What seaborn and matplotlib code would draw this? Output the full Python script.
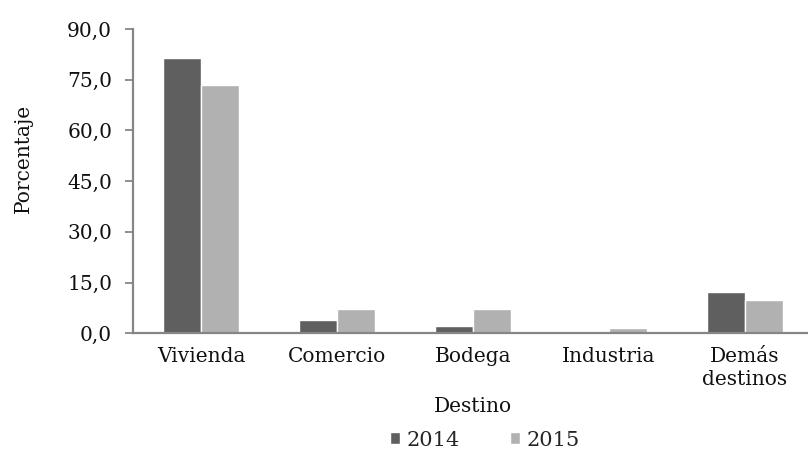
import numpy as np
import pandas as pd
import matplotlib
matplotlib.use("Agg")
import matplotlib.pyplot as plt
from matplotlib.ticker import FuncFormatter, FixedLocator
import seaborn as sns

# datos
destinos = ["Vivienda", "Comercio", "Bodega", "Industria", "Demás\ndestinos"]
anios = ["2014", "2015"]
valores_2014 = [81.3, 3.9, 2.3, 0.0, 12.1]
valores_2015 = [73.4, 7.2, 7.2, 1.5, 9.8]
colores = ["#5f5f5f", "#b1b1b1"]

df = pd.DataFrame({
    "Destino": destinos * 2,
    "Año": [anios[0]] * len(destinos) + [anios[1]] * len(destinos),
    "Porcentaje": valores_2014 + valores_2015,
})

sns.set_style("white")
plt.rcParams["font.family"] = ["DejaVu Serif"]
fs = 14.5

fig = plt.figure(figsize=(8.08, 4.57), dpi=100)
ax = fig.add_axes([0.1646, 0.2707, 0.8414, 0.6658])

sns.barplot(data=df, x="Destino", y="Porcentaje", hue="Año",
            palette=colores, width=0.56, gap=0, ax=ax,
            edgecolor="white", linewidth=1.0, saturation=1)

ax.set_xlim(-0.5, 4.5)
ax.set_ylim(0, 90)
ax.set_yticks(np.arange(0, 91, 15))
ax.yaxis.set_major_formatter(FuncFormatter(lambda v, p: f"{v:.1f}".replace(".", ",")))

# ticks en los limites de categoria
ax.xaxis.set_minor_locator(FixedLocator(np.arange(-0.5, 5, 1)))
ax.tick_params(axis="x", which="major", length=0, pad=10, labelsize=fs, labelcolor="#111111")
ax.tick_params(axis="x", which="minor", length=6, width=1.3, color="#868686", direction="out")
ax.tick_params(axis="y", length=6, width=1.3, color="#868686", direction="out", left=True,
               pad=9, labelsize=fs, labelcolor="#111111")
for t in ax.get_xticklabels():
    t.set_linespacing(1.25)

for s in ["top", "right"]:
    ax.spines[s].set_visible(False)
for s in ["left", "bottom"]:
    ax.spines[s].set_color("#868686")
    ax.spines[s].set_linewidth(1.6)

ax.set_ylabel("Porcentaje", fontsize=fs, color="#111111")
ax.yaxis.set_label_coords(-0.147, 0.576)
ax.set_xlabel("Destino", fontsize=fs, color="#111111")
ax.xaxis.set_label_coords(0.5, -0.21)

handles, labels = ax.get_legend_handles_labels()
ax.legend_.remove()
fig.legend(handles, labels, loc="center", bbox_to_anchor=(0.6, 0.037), ncol=2,
           frameon=False, handlelength=0.5, handleheight=0.5, handletextpad=0.3,
           columnspacing=2.4, fontsize=15)

fig.savefig("out.png", dpi=100)
